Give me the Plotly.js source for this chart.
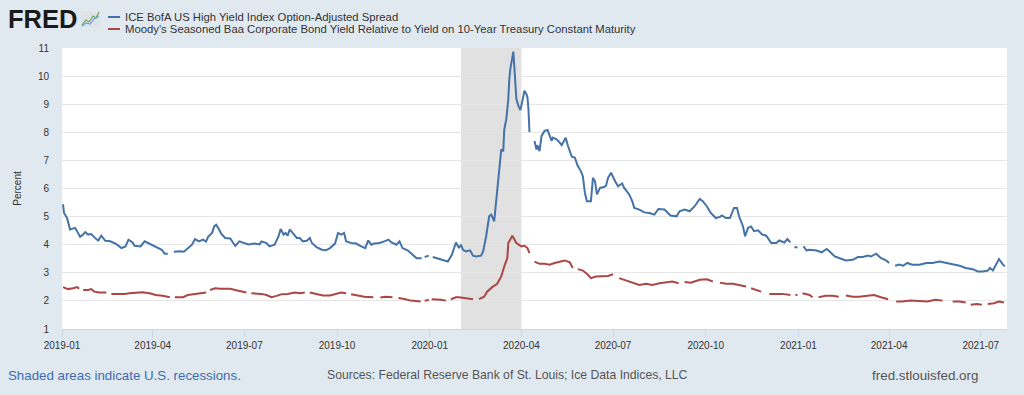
<!DOCTYPE html>
<html>
<head>
<meta charset="utf-8">
<script src="https://cdn.plot.ly/plotly-3.0.1.min.js"></script>
<style>
html,body{margin:0;padding:0;background:#e1e9f0;}
#chart{width:1024px;height:395px;}
</style>
</head>
<body>
<div id="chart"></div>
<script>
// ---- Data ----
const seriesNames = [
  "ICE BofA US High Yield Index Option-Adjusted Spread",
  "Moody's Seasoned Baa Corporate Bond Yield Relative to Yield on 10-Year Treasury Constant Maturity"
];

const hyDates = [
 '2019-01-02','2019-01-03','2019-01-06','2019-01-09','2019-01-14','2019-01-16','2019-01-19','2019-01-22','2019-01-24','2019-01-27','2019-01-30',
 '2019-02-04','2019-02-06','2019-02-09','2019-02-13','2019-02-18','2019-02-24',
 '2019-03-01','2019-03-05','2019-03-08','2019-03-12','2019-03-14','2019-03-20','2019-03-24','2019-03-29',
 '2019-04-03','2019-04-07','2019-04-10','2019-04-13','2019-04-16','2019-04-19','2019-04-22','2019-04-28',
 '2019-05-02','2019-05-06','2019-05-10','2019-05-13','2019-05-17','2019-05-21','2019-05-24','2019-05-26','2019-05-30',
 '2019-06-01','2019-06-03','2019-06-06','2019-06-08','2019-06-12','2019-06-17','2019-06-20','2019-06-22','2019-06-26','2019-06-30',
 '2019-07-05','2019-07-11','2019-07-16','2019-07-18','2019-07-23','2019-07-26','2019-07-31',
 '2019-08-04','2019-08-06','2019-08-09','2019-08-11','2019-08-13','2019-08-15','2019-08-18','2019-08-22','2019-08-25','2019-08-28',
 '2019-09-01','2019-09-04','2019-09-06','2019-09-11','2019-09-16','2019-09-20','2019-09-24','2019-09-29',
 '2019-10-02','2019-10-05','2019-10-08','2019-10-10','2019-10-15','2019-10-20','2019-10-25','2019-10-29',
 '2019-11-01','2019-11-04','2019-11-07','2019-11-12','2019-11-17','2019-11-21','2019-11-24','2019-11-29',
 '2019-12-02','2019-12-05','2019-12-10','2019-12-15','2019-12-19','2019-12-24','2019-12-25','2019-12-27','2019-12-31',
 '2020-01-01','2020-01-04','2020-01-11','2020-01-16','2020-01-19','2020-01-23','2020-01-26','2020-01-27','2020-01-30',
 '2020-02-01','2020-02-03','2020-02-06','2020-02-10','2020-02-13','2020-02-16','2020-02-21','2020-02-23','2020-02-26','2020-02-29',
 '2020-03-02','2020-03-05','2020-03-07','2020-03-09','2020-03-10','2020-03-12','2020-03-14','2020-03-15','2020-03-17','2020-03-19','2020-03-20','2020-03-21','2020-03-24','2020-03-25','2020-03-27','2020-03-29','2020-03-31',
 '2020-04-03','2020-04-04','2020-04-06','2020-04-07','2020-04-08','2020-04-09','2020-04-10','2020-04-14','2020-04-16','2020-04-17','2020-04-19','2020-04-21','2020-04-24','2020-04-27',
 '2020-05-01','2020-05-02','2020-05-06','2020-05-09','2020-05-11','2020-05-15','2020-05-17','2020-05-21','2020-05-24','2020-05-27','2020-05-30',
 '2020-06-01','2020-06-03','2020-06-05','2020-06-09','2020-06-11','2020-06-13','2020-06-15','2020-06-18','2020-06-22','2020-06-24','2020-06-26','2020-06-29',
 '2020-07-03','2020-07-06','2020-07-10','2020-07-12','2020-07-17','2020-07-20','2020-07-22','2020-07-27',
 '2020-08-01','2020-08-06','2020-08-11','2020-08-15','2020-08-21','2020-08-27',
 '2020-09-02','2020-09-05','2020-09-10','2020-09-15','2020-09-20','2020-09-25','2020-09-28',
 '2020-10-02','2020-10-06','2020-10-11','2020-10-15','2020-10-17','2020-10-21','2020-10-25','2020-10-29',
 '2020-11-01','2020-11-03','2020-11-07','2020-11-09','2020-11-12','2020-11-15','2020-11-18','2020-11-22','2020-11-26','2020-11-30',
 '2020-12-05','2020-12-10','2020-12-13','2020-12-18','2020-12-21','2020-12-24','2020-12-25','2020-12-28','2020-12-31',
 '2021-01-01','2021-01-06','2021-01-09','2021-01-12','2021-01-19','2021-01-24','2021-01-29',
 '2021-02-01','2021-02-06','2021-02-11','2021-02-17','2021-02-24',
 '2021-03-01','2021-03-06','2021-03-11','2021-03-14','2021-03-19','2021-03-24','2021-03-29',
 '2021-04-01','2021-04-02','2021-04-07','2021-04-11','2021-04-15','2021-04-19','2021-04-24',
 '2021-05-01','2021-05-08','2021-05-14','2021-05-21','2021-05-28',
 '2021-06-03','2021-06-10','2021-06-16','2021-06-23','2021-06-28',
 '2021-07-03','2021-07-08','2021-07-10','2021-07-13','2021-07-16','2021-07-19','2021-07-23','2021-07-25'
];
const hyValues = [
 5.44,5.13,4.95,4.54,4.60,4.48,4.28,4.36,4.45,4.36,4.38,
 4.20,4.15,4.32,4.14,4.12,4.02,
 3.88,3.94,4.18,4.08,3.96,3.94,4.12,4.04,
 3.94,3.88,3.82,3.68,3.68,null,3.75,3.77,
 3.75,3.88,4.00,4.20,4.12,4.18,4.11,4.28,4.42,
 4.65,4.71,4.54,4.39,4.24,4.22,4.06,3.96,4.12,4.08,
 4.01,4.04,4.01,4.12,4.06,3.94,4.00,
 4.30,4.56,4.36,4.42,4.32,4.54,4.42,4.24,4.24,4.12,
 4.14,4.24,4.06,3.90,3.82,3.80,3.88,4.04,
 4.42,4.36,4.42,4.12,4.06,4.04,3.94,3.88,
 4.15,4.00,4.04,4.06,4.12,4.18,4.08,4.00,
 4.12,3.88,3.80,3.64,3.52,3.52,null,3.56,3.61,
 null,3.56,3.49,3.43,3.40,3.64,3.94,4.08,3.88,
 4.00,3.82,3.76,3.80,3.61,3.58,3.61,3.76,4.30,5.01,
 5.07,4.83,5.61,6.32,6.62,7.39,7.33,8.11,8.46,9.18,9.89,10.25,10.87,10.25,9.18,8.94,8.79,
 9.29,9.48,9.36,9.24,8.82,8.01,null,7.69,7.39,7.54,7.33,7.87,8.05,8.08,
 7.69,7.81,7.75,7.63,7.54,7.81,7.54,7.13,7.10,6.80,6.62,
 6.44,5.85,5.55,5.55,6.38,6.26,5.79,6.02,6.05,6.10,6.38,6.56,
 6.26,6.08,6.18,6.02,5.79,5.55,5.31,5.25,
 5.15,5.13,5.07,5.27,5.25,5.04,
 5.01,5.19,5.25,5.19,5.37,5.63,5.55,
 5.37,5.13,4.95,4.99,5.04,4.95,4.95,5.31,
 5.31,5.01,4.65,4.30,4.60,4.65,4.48,4.51,4.36,4.32,
 4.06,4.06,4.15,4.08,4.20,4.08,null,3.92,3.90,
 null,3.94,3.80,3.82,3.79,3.73,3.85,
 3.76,3.58,3.52,3.44,3.46,
 3.56,3.56,3.61,3.58,3.68,3.52,3.44,
 3.35,null,3.25,3.29,3.25,3.35,3.29,
 3.29,3.35,3.35,3.40,3.35,
 3.29,3.25,3.17,3.13,3.05,
 3.05,3.08,3.17,3.08,3.29,3.49,3.29,3.23
];

const baaDates = [
 '2019-01-02','2019-01-07','2019-01-12','2019-01-16','2019-01-18','2019-01-21','2019-01-22','2019-01-27','2019-01-30',
 '2019-02-02','2019-02-07','2019-02-14','2019-02-18','2019-02-19','2019-02-25',
 '2019-03-04','2019-03-09','2019-03-16','2019-03-22','2019-03-29',
 '2019-04-04','2019-04-11','2019-04-18','2019-04-19','2019-04-23',
 '2019-05-01','2019-05-06','2019-05-13','2019-05-20','2019-05-24','2019-05-27','2019-05-28',
 '2019-06-02','2019-06-07','2019-06-12','2019-06-17','2019-06-24','2019-06-28',
 '2019-07-03','2019-07-04','2019-07-08','2019-07-11','2019-07-18','2019-07-23','2019-07-28',
 '2019-08-02','2019-08-07','2019-08-13','2019-08-20','2019-08-25','2019-08-30',
 '2019-09-02','2019-09-04','2019-09-11','2019-09-17','2019-09-24','2019-09-30',
 '2019-10-05','2019-10-10','2019-10-14','2019-10-15','2019-10-22','2019-10-28',
 '2019-11-06','2019-11-11','2019-11-13','2019-11-18','2019-11-25','2019-11-28',
 '2019-12-01','2019-12-07','2019-12-13','2019-12-23','2019-12-25','2019-12-27','2019-12-31',
 '2020-01-01','2020-01-03','2020-01-07','2020-01-12','2020-01-17','2020-01-20','2020-01-22','2020-01-27','2020-01-30',
 '2020-02-06','2020-02-13','2020-02-17','2020-02-19','2020-02-24','2020-02-27',
 '2020-03-03','2020-03-08','2020-03-12','2020-03-15','2020-03-18','2020-03-19','2020-03-22','2020-03-23','2020-03-27','2020-03-29',
 '2020-04-01','2020-04-04','2020-04-07','2020-04-09','2020-04-10','2020-04-14','2020-04-19','2020-04-24','2020-04-29',
 '2020-05-04','2020-05-09','2020-05-14','2020-05-19','2020-05-22','2020-05-25','2020-05-27',
 '2020-06-01','2020-06-06','2020-06-09','2020-06-14','2020-06-19','2020-06-26',
 '2020-07-01','2020-07-03','2020-07-07','2020-07-14','2020-07-21','2020-07-27',
 '2020-08-03','2020-08-09','2020-08-16','2020-08-23','2020-08-29',
 '2020-09-04','2020-09-07','2020-09-10','2020-09-16','2020-09-25',
 '2020-10-02','2020-10-08','2020-10-12','2020-10-15','2020-10-21','2020-10-28',
 '2020-11-03','2020-11-10','2020-11-11','2020-11-15','2020-11-20','2020-11-25','2020-11-26',
 '2020-12-03','2020-12-10','2020-12-16','2020-12-24','2020-12-25','2020-12-29','2020-12-31',
 '2021-01-01','2021-01-05','2021-01-12','2021-01-15','2021-01-18','2021-01-21','2021-01-28',
 '2021-02-04','2021-02-10','2021-02-15','2021-02-17','2021-02-24',
 '2021-03-02','2021-03-09','2021-03-17','2021-03-24','2021-03-31',
 '2021-04-02','2021-04-08','2021-04-14','2021-04-22',
 '2021-05-01','2021-05-09','2021-05-17','2021-05-24','2021-05-31',
 '2021-06-03','2021-06-10','2021-06-16','2021-06-18','2021-06-21','2021-06-27',
 '2021-07-02','2021-07-05','2021-07-08','2021-07-14','2021-07-19','2021-07-24'
];
const baaValues = [
 2.49,2.42,2.45,2.49,2.43,null,2.39,2.39,2.42,
 2.33,2.30,2.30,null,2.25,2.24,
 2.25,2.27,2.29,2.31,2.27,
 2.21,2.18,2.13,null,2.13,
 2.13,2.21,2.25,2.27,2.30,null,2.39,
 2.45,2.43,2.42,2.43,2.37,2.33,
 2.30,null,2.27,2.27,2.25,2.21,2.13,
 2.18,2.24,2.25,2.30,2.27,2.30,
 null,2.30,2.24,2.19,2.19,2.24,
 2.30,2.27,null,2.24,2.19,2.15,
 2.13,null,2.12,2.15,2.13,null,
 2.10,2.07,2.01,1.98,null,2.00,2.04,
 null,2.06,2.06,2.04,2.01,null,2.06,2.13,2.13,
 2.10,2.06,null,2.06,2.15,2.33,
 2.49,2.61,2.87,3.23,3.52,4.06,4.30,4.32,4.06,4.00,
 3.94,3.96,3.88,3.70,null,3.40,3.32,3.32,3.29,
 3.35,3.40,3.44,3.37,3.17,null,3.13,
 3.08,2.93,2.81,2.87,2.87,2.89,
 2.95,null,2.81,2.73,2.65,2.57,
 2.61,2.57,2.63,2.65,2.69,
 2.63,null,2.67,2.65,2.75,
 2.77,2.69,null,2.65,2.61,2.61,
 2.57,2.51,null,2.45,2.39,2.33,null,
 2.25,2.25,2.25,2.21,null,2.21,2.21,
 null,2.27,2.21,2.13,null,2.13,2.18,
 2.18,2.15,null,2.19,2.15,
 2.15,2.18,2.21,2.13,2.06,
 null,1.98,1.98,2.01,
 1.98,1.98,2.04,2.01,null,
 1.98,1.98,1.94,null,1.86,1.89,
 1.86,null,1.89,1.92,1.98,1.94
];

const recessionStart = ['2020-02-01'];
const recessionEnd = ['2020-04-01'];
const xRange = ['2019-01-01', '2021-07-27'];
const yRange = [1, 11];

// ---- Styling ----
const FONT = '"Liberation Sans", Arial, Helvetica, sans-serif';
const COLORS = ['#4572a7', '#aa4643'];
const W = 1024, H = 395;
const M = {l: 62, r: 17, t: 48, b: 66};
const PW = W - M.l - M.r, PH = H - M.t - M.b;
// pixel -> paper helpers for decorations (logo, legend, footer)
const px = x => (x - M.l) / PW;
const py = y => (H - M.b - y) / PH;

const traces = [
  {x: hyDates, y: hyValues, name: seriesNames[0], type: 'scatter', mode: 'lines',
   line: {color: COLORS[0], width: 2}, connectgaps: false, showlegend: false},
  {x: baaDates, y: baaValues, name: seriesNames[1], type: 'scatter', mode: 'lines',
   line: {color: COLORS[1], width: 2}, connectgaps: false, showlegend: false}
];

const shapes = recessionStart.map((s, i) => ({
  type: 'rect', xref: 'x', yref: 'paper', x0: s, x1: recessionEnd[i], y0: 0, y1: 1,
  fillcolor: '#e1e1e1', line: {width: 0}, layer: 'below'
}));

// legend line samples
[17, 29].forEach((yy, i) => {
  shapes.push({type: 'line', xref: 'paper', yref: 'paper', x0: px(108), x1: px(120), y0: py(yy), y1: py(yy),
    line: {color: COLORS[i], width: 2}});
});
// FRED logo icon
shapes.push({type: 'rect', xref: 'paper', yref: 'paper', x0: px(81), x1: px(100), y0: py(27), y1: py(11),
  fillcolor: '#dfe3e8', line: {width: 0}});
shapes.push({type: 'path', xref: 'paper', yref: 'paper',
  path: `M ${px(82)} ${py(25)} L ${px(86)} ${py(20)} L ${px(89)} ${py(22)} L ${px(93)} ${py(16)} L ${px(96)} ${py(18)} L ${px(99)} ${py(12)}`,
  line: {color: '#6aa84f', width: 1.2}});
shapes.push({type: 'path', xref: 'paper', yref: 'paper',
  path: `M ${px(82)} ${py(26)} L ${px(86)} ${py(23)} L ${px(90)} ${py(24)} L ${px(94)} ${py(19)} L ${px(99)} ${py(16)}`,
  line: {color: '#6d9eeb', width: 1.2}});

const annotations = [
  {text: '<b>FRED</b>', xref: 'paper', yref: 'paper', x: px(6), y: py(19), xanchor: 'left', yanchor: 'middle',
   showarrow: false, font: {family: FONT, size: 25.5, color: '#1a1a1a'}},
  {text: seriesNames[0], xref: 'paper', yref: 'paper', x: px(123), y: py(17), xanchor: 'left', yanchor: 'middle',
   showarrow: false, font: {family: FONT, size: 11.3, color: '#333333'}},
  {text: seriesNames[1], xref: 'paper', yref: 'paper', x: px(123), y: py(29), xanchor: 'left', yanchor: 'middle',
   showarrow: false, font: {family: FONT, size: 11.3, color: '#333333'}},
  {text: 'Shaded areas indicate U.S. recessions.', xref: 'paper', yref: 'paper', x: px(6), y: py(375),
   xanchor: 'left', yanchor: 'middle', showarrow: false, font: {family: FONT, size: 13.3, color: '#3d6bb0'}},
  {text: 'Sources: Federal Reserve Bank of St. Louis; Ice Data Indices, LLC', xref: 'paper', yref: 'paper', x: px(325), y: py(375),
   xanchor: 'left', yanchor: 'middle', showarrow: false, font: {family: FONT, size: 12.2, color: '#555555'}},
  {text: 'fred.stlouisfed.org', xref: 'paper', yref: 'paper', x: px(980), y: py(375),
   xanchor: 'right', yanchor: 'middle', showarrow: false, font: {family: FONT, size: 13.4, color: '#555555'}}
];

const layout = {
  width: W, height: H,
  margin: M,
  paper_bgcolor: '#e1e9f0',
  plot_bgcolor: '#ffffff',
  font: {family: FONT, size: 10, color: '#333333'},
  showlegend: false,
  xaxis: {
    type: 'date', range: xRange, tick0: '2019-01-01', dtick: 'M3', tickformat: '%Y-%m',
    ticks: 'outside', ticklen: 7, tickcolor: '#ccd6eb', tickwidth: 1,
    showgrid: false, showline: true, linecolor: '#ccd6eb', zeroline: false,
    tickfont: {family: FONT, size: 10, color: '#333333'}, fixedrange: true
  },
  yaxis: {
    range: yRange, dtick: 1, tick0: 1, showgrid: true, gridcolor: '#e6e6e6', gridwidth: 1,
    zeroline: false, showline: false, ticks: '', ticklabelstandoff: 12,
    tickfont: {family: FONT, size: 10, color: '#333333'},
    title: {text: 'Percent', font: {family: FONT, size: 10, color: '#333333'}, standoff: 14},
    fixedrange: true
  },
  shapes: shapes,
  annotations: annotations
};

Plotly.newPlot('chart', traces, layout, {displayModeBar: false, staticPlot: true});
</script>
</body>
</html>
